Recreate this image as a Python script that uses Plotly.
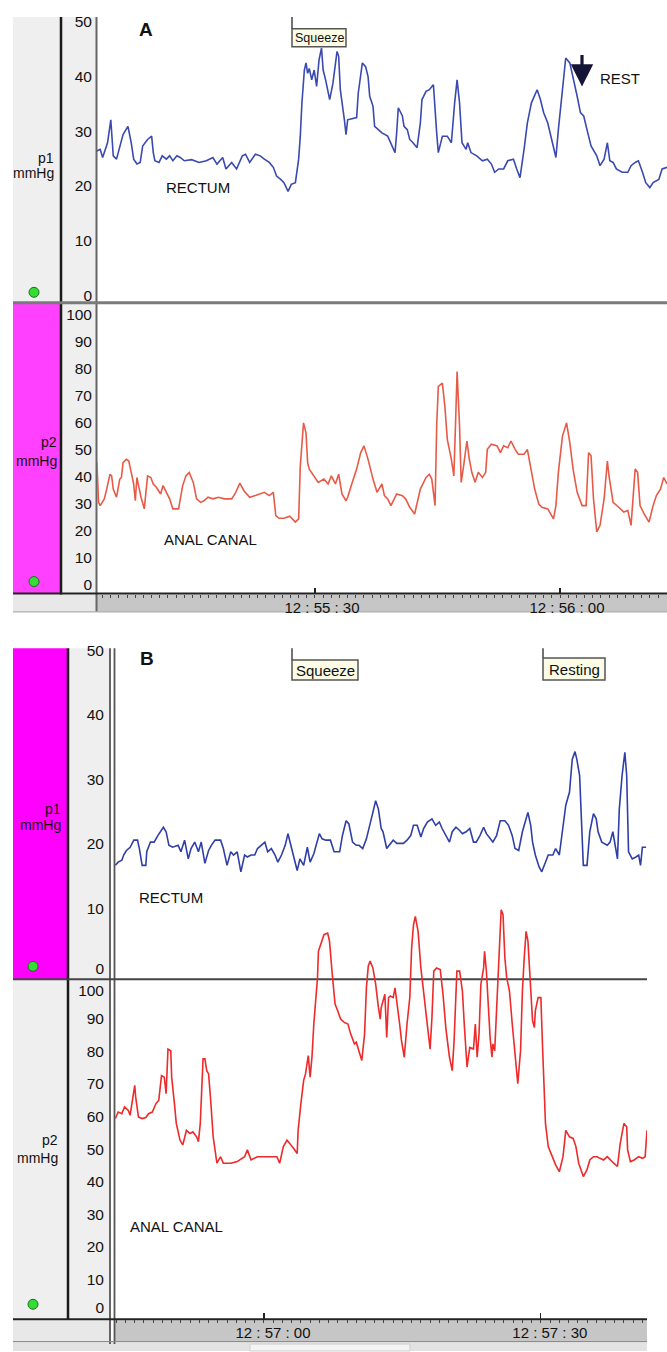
import plotly.graph_objects as go

# ---------------- DATA ----------------
# Panel A: time in seconds after 12:55:00
t_a_rectum = [3.3,3.7,4.0,4.6,5.0,5.3,5.7,6.2,6.5,7.1,7.5,7.8,8.2,8.6,8.9,9.5,10.0,10.2,10.4,10.9,11.3,11.8,12.2,12.6,13.1,13.5,14.0,14.9,15.8,16.7,17.5,18.0,18.7,19.1,19.8,20.4,21.1,21.5,22.0,22.7,23.3,23.8,24.4,24.9,25.3,25.8,26.2,26.7,27.1,27.6,28.0,28.2,28.4,28.7,28.9,29.1,29.3,29.6,29.9,30.2,30.5,30.8,31.0,31.3,31.8,32.2,32.7,32.9,33.1,33.6,33.8,34.0,35.1,35.3,35.8,36.2,36.5,36.7,37.1,37.3,37.8,38.2,38.9,39.3,39.8,40.0,40.2,40.7,40.9,41.3,41.6,42.0,42.5,42.9,43.1,43.6,44.0,44.5,44.7,44.9,45.1,45.6,46.2,46.7,47.1,47.4,47.7,48.0,48.5,48.7,49.1,49.8,50.5,51.1,51.6,52.0,52.5,53.1,53.6,54.3,54.7,55.1,55.6,56.0,56.5,57.2,57.6,58.0,58.5,58.9,59.5,59.8,60.3,60.7,61.2,61.6,62.1,62.5,62.9,63.4,63.8,64.5,64.9,65.4,65.8,66.1,66.5,66.9,67.6,68.3,68.7,69.2,69.6,70.1,70.5,71.0,71.4,72.1,72.5,73.1]
p1_a_rectum = [26.4,26.7,25.2,27.9,32.1,25.5,24.9,27.9,29.4,30.9,27.9,24.9,24.0,24.3,27.3,28.5,29.1,26.1,24.6,24.3,25.5,24.9,25.5,24.6,25.5,25.2,24.6,24.8,24.3,24.6,25.2,24.0,25.2,23.1,24.3,23.1,25.5,25.8,24.3,25.8,25.5,24.9,24.3,23.4,21.8,21.2,20.6,19.0,20.3,20.6,24.9,29.1,35.2,41.2,42.5,40.6,41.5,39.4,41.2,38.2,43.1,45.2,41.2,39.4,35.8,38.8,44.6,43.7,37.6,32.1,29.4,32.1,32.5,37.0,42.5,41.8,40.0,36.4,34.6,30.9,30.3,29.7,29.1,27.9,26.1,29.7,34.3,32.8,30.9,30.3,28.5,27.9,27.0,31.5,35.8,37.3,37.6,38.5,33.4,29.7,26.1,29.1,29.1,27.9,35.2,39.4,35.2,27.9,26.7,27.9,26.1,25.5,24.6,24.9,24.0,22.5,23.1,23.1,24.6,24.9,23.1,21.5,26.7,31.5,35.2,37.6,35.8,33.4,31.5,29.1,25.2,30.3,38.2,43.4,42.5,40.0,36.4,33.4,32.8,29.7,27.3,25.5,23.7,24.9,27.9,24.6,24.3,23.1,22.5,22.5,23.7,24.3,24.6,22.5,20.6,19.7,20.6,21.2,23.1,23.4]

t_a_anal = [3.3,3.5,3.7,4.2,4.5,4.9,5.1,5.3,5.7,6.1,6.3,6.5,6.9,7.2,7.5,7.8,8.0,8.2,8.4,8.7,9.1,9.5,9.9,10.2,10.6,11.1,11.4,11.8,12.2,12.6,13.3,13.8,14.2,14.6,15.1,15.5,16.0,16.4,16.9,17.5,18.2,18.9,19.8,20.2,20.8,21.3,22.0,22.7,23.3,23.8,24.4,24.9,25.2,25.6,26.2,26.9,27.6,28.0,28.2,28.6,28.9,29.1,29.3,30.0,30.4,31.1,31.6,32.0,32.5,32.9,33.3,33.8,34.0,34.5,35.1,35.6,36.0,36.5,37.1,37.6,38.2,38.5,38.9,39.3,40.0,40.7,41.1,41.6,42.2,42.9,43.6,44.0,44.3,44.7,44.9,45.1,45.6,45.9,46.2,46.7,47.0,47.2,47.4,47.7,47.9,48.2,48.6,48.9,49.2,49.6,50.0,50.5,50.9,51.1,51.6,52.3,52.7,53.1,53.6,54.0,54.5,54.9,55.6,56.0,56.5,56.9,57.4,57.8,58.5,59.2,59.5,59.8,60.3,60.8,61.2,61.6,62.1,62.7,63.2,63.5,63.8,64.1,64.5,64.9,65.4,65.8,66.0,66.5,67.2,67.8,68.3,68.7,69.2,69.5,69.8,70.3,70.9,71.4,71.8,72.3,72.7,73.1]
p2_a_anal = [45.1,30.4,29.2,31.7,35.3,40.8,40.2,35.3,32.3,39.0,39.6,45.1,46.3,45.7,41.5,37.2,31.0,39.6,36.6,32.3,28.0,40.2,39.6,37.2,35.9,33.5,36.6,34.1,31.7,28.0,28.0,36.6,40.2,41.5,37.8,31.7,30.4,31.0,32.3,31.7,32.3,31.7,31.7,33.5,37.5,34.7,32.3,32.9,33.5,34.1,32.9,34.1,25.5,24.5,24.5,25.3,23.1,24.3,43.9,59.8,56.1,45.1,42.7,39.6,37.8,39.0,37.2,40.2,37.2,40.8,33.5,31.0,32.3,37.2,42.7,48.8,51.3,46.3,39.0,34.1,37.2,32.9,31.7,29.2,33.5,32.9,31.7,28.6,26.1,35.3,39.6,40.8,39.0,29.2,58.6,73.3,74.5,66.0,53.7,46.3,40.2,58.6,78.8,58.6,37.8,43.9,53.1,46.3,41.5,37.8,41.5,39.6,41.5,50.0,51.9,51.3,48.8,51.3,50.6,53.1,50.0,48.2,48.2,50.0,41.5,35.3,29.8,28.6,28.0,24.3,29.2,41.5,54.9,59.8,52.5,42.7,34.1,29.2,29.2,48.8,47.6,31.7,19.5,21.9,31.7,45.7,40.2,30.4,28.6,26.8,27.4,21.9,42.7,41.5,29.2,26.1,23.1,29.2,32.9,35.3,39.6,37.2]

# Panel B: time in seconds after 12:56:00
t_b_rectum = [43.9,44.2,44.6,44.8,45.1,45.5,45.9,46.3,46.5,46.8,47.2,47.3,47.7,48.1,48.5,48.8,49.1,49.4,49.7,50.1,50.7,51.0,51.4,51.8,52.1,52.5,52.9,53.2,53.6,54.0,54.3,54.7,55.3,55.6,56.0,56.4,56.7,57.1,57.5,57.9,58.2,58.6,59.0,59.3,59.7,60.1,60.4,60.8,61.2,61.5,61.9,62.3,62.6,63.0,63.4,63.6,63.9,64.3,64.7,65.0,65.4,65.8,66.0,66.3,66.7,67.2,67.6,68.2,68.5,68.9,69.2,69.6,70.0,70.3,70.7,71.1,71.4,71.8,72.1,72.4,72.7,72.9,73.3,73.6,74.0,74.4,75.1,75.5,75.9,76.2,76.6,77.0,77.3,77.7,78.2,78.6,79.0,79.3,79.7,80.1,80.4,80.8,81.2,81.5,81.9,82.3,82.7,83.0,83.4,83.8,84.1,84.5,84.8,85.2,85.6,86.1,86.5,86.9,87.2,87.6,88.0,88.3,88.6,88.9,89.1,89.4,89.8,90.1,90.5,90.8,91.3,91.6,92.0,92.4,92.7,93.1,93.4,93.7,93.9,94.2,94.4,94.6,95.0,95.3,95.7,96.0,96.2,96.6,97.2,97.5,97.8,98.1,98.3,98.5,98.8,99.1,99.3,99.5,99.9,100.3,100.6,100.8,101.0,101.4]
p1_b_rectum = [16.7,17.2,17.5,18.3,19.0,19.5,20.6,20.6,19.3,16.7,16.7,18.8,20.3,20.3,21.3,21.9,22.6,21.9,19.8,19.5,19.8,18.8,20.6,17.7,19.3,20.3,18.8,20.3,17.0,19.0,19.8,20.6,20.6,19.3,16.7,18.8,18.3,18.8,15.7,18.3,18.0,18.3,18.3,19.3,19.8,20.3,18.8,19.3,18.3,17.2,18.3,19.8,21.6,19.3,16.7,15.9,17.7,16.7,19.5,17.2,18.5,20.8,21.6,20.8,20.6,20.6,18.8,18.8,21.3,23.6,23.1,20.3,19.8,19.8,19.3,20.8,22.4,24.9,26.7,25.4,22.4,21.9,19.3,19.8,20.6,20.1,20.1,20.6,21.3,22.9,22.9,21.1,22.4,23.4,23.9,22.9,23.4,22.4,21.3,20.3,21.9,22.6,22.1,21.6,21.9,22.4,20.3,20.3,21.3,22.6,21.6,20.8,20.3,21.3,23.6,23.6,22.9,21.3,19.3,19.0,21.9,23.4,24.9,22.9,20.3,18.3,16.5,15.7,17.2,18.3,18.3,19.3,18.3,22.4,26.0,28.0,33.1,34.3,33.1,30.6,22.9,16.7,16.7,21.9,24.7,23.9,21.9,20.3,19.8,20.3,21.9,19.3,17.7,25.4,30.6,34.2,30.6,18.8,17.7,18.0,18.3,16.7,19.5,19.5]

t_b_anal = [43.9,44.2,44.6,44.9,45.3,45.5,45.8,46.0,46.1,46.4,46.8,47.2,47.5,47.9,48.3,48.6,48.9,49.2,49.4,49.6,49.9,50.0,50.3,50.5,50.9,51.2,51.6,52.0,52.3,52.7,52.9,53.1,53.4,53.6,53.8,54.0,54.2,54.5,54.9,55.3,55.6,56.4,57.1,57.9,58.2,58.6,59.3,60.1,60.8,61.4,61.7,62.1,62.5,62.8,63.2,63.6,63.7,64.0,64.3,64.5,64.8,65.0,65.2,65.4,65.6,65.8,65.9,66.2,66.5,66.9,67.1,67.4,67.7,68.0,68.3,68.7,69.1,69.4,69.8,70.0,70.3,70.6,70.9,71.1,71.3,71.5,71.8,72.1,72.4,72.6,72.7,72.9,73.1,73.3,73.5,73.7,74.0,74.2,74.4,74.7,74.9,75.2,75.5,75.8,76.0,76.2,76.4,76.7,77.0,77.3,77.7,78.0,78.2,78.4,78.7,79.1,79.4,79.7,80.1,80.4,80.6,80.9,81.2,81.5,81.7,82.0,82.3,82.7,82.9,83.1,83.3,83.5,83.8,83.9,84.1,84.3,84.5,84.7,84.8,85.0,85.3,85.5,85.7,85.9,86.1,86.3,86.6,86.9,87.2,87.5,87.8,88.0,88.2,88.4,88.6,88.8,89.1,89.3,89.4,89.7,90.0,90.2,90.4,90.5,90.8,91.2,91.6,92.0,92.4,92.7,93.1,93.5,93.8,94.1,94.6,95.0,95.3,95.7,96.1,96.4,96.8,97.2,97.5,97.9,98.3,98.6,99.0,99.3,99.4,99.7,100.1,100.6,101.0,101.3,101.5]
p2_b_anal = [59.4,61.4,60.9,63.0,61.9,60.4,66.0,69.6,66.0,59.9,59.4,59.7,60.9,61.4,64.0,65.0,72.6,72.1,67.0,80.7,80.2,72.1,64.0,57.9,52.8,51.3,55.8,54.8,55.3,53.8,52.3,57.9,77.7,77.7,74.1,73.1,66.0,53.8,45.7,47.7,45.7,45.7,46.2,47.7,49.8,46.7,47.7,47.7,47.7,47.7,45.7,50.8,52.8,51.8,50.3,48.7,55.8,64.0,71.1,73.1,78.7,72.1,78.2,88.4,96.5,102.6,110.7,113.3,115.8,116.3,113.8,103.6,94.5,92.4,89.9,88.9,88.4,85.3,82.3,82.8,80.2,77.2,85.3,99.5,106.1,107.7,105.6,100.6,93.4,89.9,93.4,95.5,97.5,84.3,96.5,97.0,96.5,99.5,95.5,88.4,83.3,78.2,88.4,96.5,111.7,118.8,121.4,116.8,105.6,98.5,88.4,80.7,90.4,104.6,105.6,105.1,97.5,87.3,78.2,74.1,83.3,104.6,104.6,98.5,88.4,75.2,81.2,80.7,88.4,78.2,85.3,100.6,105.6,110.7,104.6,93.4,84.3,78.2,82.3,80.2,98.5,111.7,123.4,121.9,108.7,102.6,98.5,88.4,78.2,70.1,80.2,98.5,108.7,116.8,113.8,102.6,89.4,87.3,92.4,96.5,96.5,80.2,64.0,57.9,50.8,47.7,45.2,43.1,47.7,55.8,53.8,53.3,50.8,45.7,41.6,43.7,46.7,47.7,47.7,47.2,46.7,47.7,46.7,45.7,44.7,51.8,57.9,56.9,49.8,46.2,46.7,47.7,47.2,47.7,55.8]

assert len(t_a_rectum) == len(p1_a_rectum), (len(t_a_rectum), len(p1_a_rectum))
assert len(t_a_anal) == len(p2_a_anal), (len(t_a_anal), len(p2_a_anal))
assert len(t_b_rectum) == len(p1_b_rectum), (len(t_b_rectum), len(p1_b_rectum))
assert len(t_b_anal) == len(p2_b_anal), (len(t_b_anal), len(p2_b_anal))

p1_tick_labels = ["0", "10", "20", "30", "40", "50"]
p1_tick_vals = [0, 10, 20, 30, 40, 50]
p1_tick_vals_b = [0.7, 10, 20, 30, 40, 50]          # lowest label sits just above the divider
p2_tick_labels = ["0", "10", "20", "30", "40", "50", "60", "70", "80", "90", "100"]
p2_tick_vals = [0, 10, 20, 30, 40, 50, 60, 70, 80, 90, 100]
p2_tick_vals_b = [1.5, 10, 20, 30, 40, 50, 60, 70, 80, 90, 98.8]
time_ticks_a = [30, 60]
time_labels_a = ["12 : 55 : 30", "12 : 56 : 00"]
time_ticks_b = [60, 90]
time_labels_b = ["12 : 57 : 00", "12 : 57 : 30"]

# ---------------- LAYOUT HELPERS ----------------
W, H = 667, 1352
FONT = "Liberation Sans, Arial, sans-serif"

def X(px):
    return px / W

def Y(py):
    return 1 - py / H

shapes = []

def rect(x0, y0, x1, y1, fill, line_color=None, lw=0):
    shapes.append(dict(type="rect", xref="paper", yref="paper", x0=X(x0), x1=X(x1), y0=Y(y1), y1=Y(y0),
                       fillcolor=fill, line=dict(color=line_color or fill, width=lw), layer="below"))

def line(x0, y0, x1, y1, color, width, layer="below"):
    shapes.append(dict(type="line", xref="paper", yref="paper", x0=X(x0), x1=X(x1), y0=Y(y0), y1=Y(y1),
                       line=dict(color=color, width=width), layer=layer))

def dot(cx, cy, r=5):
    shapes.append(dict(type="circle", xref="paper", yref="paper", x0=X(cx - r), x1=X(cx + r), y0=Y(cy + r), y1=Y(cy - r),
                       fillcolor="#33dd33", line=dict(color="#1d6e1d", width=1), layer="above"))

# Panel A chrome
rect(13, 10, 60, 297, "#efefef")
rect(13, 298, 60, 590, "#ff40ff")
rect(62, 10, 96, 590, "#efefef")
rect(13, 591, 96, 608, "#e8e8e8")
rect(97, 591, 667, 608, "#c6c6c6")
line(61, 10, 61, 591, "#1a1a1a", 2.5)
line(96.5, 10, 96.5, 608, "#666666", 2)
line(13, 297.5, 667, 297.5, "#7a7a7a", 3)
line(13, 590, 667, 590, "#222222", 2)
line(13, 608.5, 667, 608.5, "#9a9a9a", 1)

# Panel B chrome
rect(13, 645, 67, 978, "#ff00ff")
rect(13, 978, 67, 1320, "#efefef")
rect(69, 645, 109, 1320, "#efefef")
rect(13, 1321, 110, 1342, "#e8e8e8")
rect(115, 1321, 647, 1342, "#c6c6c6")
rect(13, 1343, 647, 1352, "#e2e2e2")
rect(250, 1345, 410, 1352, "#f4f4f4", "#cfcfcf", 1)
line(68, 645, 68, 1320, "#1a1a1a", 2.5)
line(110, 645, 110, 1345, "#555555", 1.8)
line(114.5, 645, 114.5, 1345, "#555555", 1.8)
line(13, 978, 647, 978, "#444444", 2)
line(13, 1320, 647, 1320, "#222222", 2)
line(13, 1342.5, 647, 1342.5, "#888888", 1)

# event markers
line(292, 10, 292, 22, "#444444", 1.5)
rect(292, 22, 346, 40, "#fbfbe6", "#555555", 1.5)
line(292, 645, 292, 657, "#444444", 1.5)
rect(292, 657, 358, 677, "#fbfbe6", "#555555", 1.5)
line(543, 645, 543, 655, "#444444", 1.5)
rect(543, 655, 605, 677, "#fbfbe6", "#555555", 1.5)

dot(34, 287)
dot(34, 578)
dot(33, 965)
dot(33, 1305)

annotations = []

def text(s, x, y, size=15, xanchor="center", bold=False, color="#111111"):
    annotations.append(dict(text=("<b>%s</b>" % s) if bold else s, x=X(x), y=Y(y), xref="paper", yref="paper",
                            xanchor=xanchor, yanchor="middle", showarrow=False,
                            font=dict(family=FONT, size=size, color=color)))

text("A", 146, 23, 19, bold=True)
text("B", 147, 655, 19, bold=True)
text("RECTUM", 198, 182)
text("ANAL CANAL", 210, 536)
text("REST", 620, 72)
text("RECTUM", 171, 896)
text("ANAL CANAL", 176, 1227)
text("Squeeze", 319, 31, 12.5)
text("Squeeze", 325, 667, 15)
text("Resting", 574, 666, 15)
text("p1", 56, 152, 14, xanchor="right")
text("mmHg", 56, 167, 14, xanchor="right")
text("p2", 59, 438, 14, xanchor="right")
text("mmHg", 59, 457, 14, xanchor="right")
text("p1", 63, 807, 14, xanchor="right")
text("mmHg", 63, 823, 14, xanchor="right")
text("p2", 60, 1140, 14, xanchor="right")
text("mmHg", 60, 1158, 14, xanchor="right")

annotations.append(dict(text="", x=X(582), y=Y(80), xref="paper", yref="paper", showarrow=True,
                        ax=0, ay=-33, arrowhead=2, arrowsize=1.4, arrowwidth=3.2, arrowcolor="#141436"))

# ---------------- FIGURE ----------------
fig = go.Figure()
fig.add_trace(go.Scatter(x=t_a_rectum, y=p1_a_rectum, mode="lines", line=dict(color="#3a4ab0", width=1.6),
                         xaxis="x", yaxis="y"))
fig.add_trace(go.Scatter(x=t_a_anal, y=p2_a_anal, mode="lines", line=dict(color="#e85a48", width=1.6),
                         xaxis="x2", yaxis="y2"))
fig.add_trace(go.Scatter(x=t_b_rectum, y=p1_b_rectum, mode="lines", line=dict(color="#2f3fa8", width=1.6),
                         xaxis="x3", yaxis="y3"))
fig.add_trace(go.Scatter(x=t_b_anal, y=p2_b_anal, mode="lines", line=dict(color="#ee2a2a", width=1.6),
                         xaxis="x4", yaxis="y4"))

yax_common = dict(showgrid=False, zeroline=False, showline=False, ticks="", fixedrange=True,
                  tickfont=dict(family=FONT, size=15.5, color="#111111"))
xhidden = dict(showgrid=False, zeroline=False, showline=False, showticklabels=False, ticks="")

xtime_common = dict(showgrid=False, zeroline=False, showline=False, ticks="inside", ticklen=6, tickcolor="#222222",
                    tickwidth=1.2, tickfont=dict(family=FONT, size=15, color="#111111"), ticklabelstandoff=3,
                    minor=dict(ticks="outside", ticklen=3, dtick=1, tick0=0, tickcolor="#444444", tickwidth=1))

fig.update_layout(
    width=W, height=H, autosize=False, margin=dict(l=0, r=0, t=0, b=0),
    paper_bgcolor="white", plot_bgcolor="rgba(0,0,0,0)", showlegend=False,
    font=dict(family=FONT),
    xaxis=dict(domain=[X(97), X(667)], range=[3.31, 73.1], anchor="y", **xhidden),
    yaxis=dict(domain=[Y(297), Y(10)], range=[(290 - 297) / 5.5, (290 - 10) / 5.5], anchor="x",
               tickvals=p1_tick_vals, ticktext=p1_tick_labels, ticklabelstandoff=4, **yax_common),
    xaxis2=dict(domain=[X(97), X(667)], range=[3.31, 73.1], anchor="y2", tickvals=time_ticks_a,
                ticktext=time_labels_a, ticklabelshift=7, **xtime_common),
    yaxis2=dict(domain=[Y(590), Y(298)], range=[(581 - 590) / 2.72, (581 - 298) / 2.72], anchor="x2",
                tickvals=p2_tick_vals, ticktext=p2_tick_labels, ticklabelstandoff=4, **yax_common),
    xaxis3=dict(domain=[X(115), X(647)], range=[43.86, 101.5], anchor="y3", **xhidden),
    yaxis3=dict(domain=[Y(978), Y(645)], range=[(972 - 978) / 6.5, (972 - 645) / 6.5], anchor="x3",
                tickvals=p1_tick_vals_b, ticktext=p1_tick_labels, ticklabelstandoff=10, **yax_common),
    xaxis4=dict(domain=[X(115), X(647)], range=[43.86, 101.5], anchor="y4", tickvals=time_ticks_b,
                ticktext=time_labels_b, ticklabelshift=9, **xtime_common),
    yaxis4=dict(domain=[Y(1320), Y(645)], range=[(1313 - 1320) / 3.28, (1313 - 645) / 3.28], anchor="x4",
                tickvals=p2_tick_vals_b, ticktext=p2_tick_labels, ticklabelstandoff=10, **yax_common),
    shapes=shapes, annotations=annotations,
)

fig.write_html("out.html", config={"displayModeBar": False, "staticPlot": True},
               post_script="document.body.style.margin='0px';document.body.style.overflow='hidden';")
